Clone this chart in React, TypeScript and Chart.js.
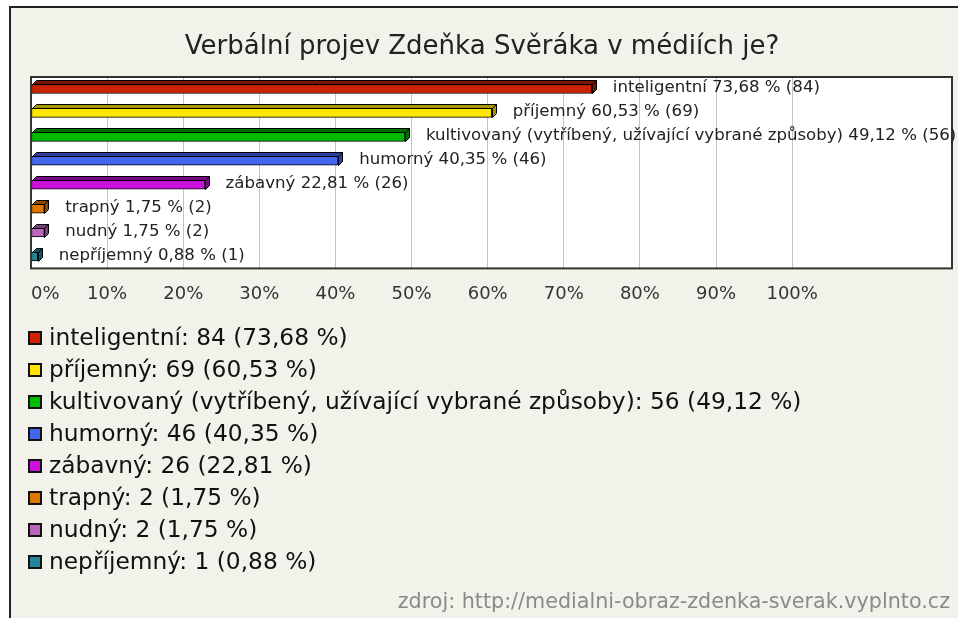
import React, { useEffect, useRef } from 'react';
import { Chart, registerables } from 'chart.js';

Chart.register(...registerables);

const TITLE = 'Verbální projev Zdeňka Svěráka v médiích je?';
const FOOTER = 'zdroj: http://medialni-obraz-zdenka-sverak.vyplnto.cz';

const categories = [
  'inteligentní',
  'příjemný',
  'kultivovaný (vytříbený, užívající vybrané způsoby)',
  'humorný',
  'zábavný',
  'trapný',
  'nudný',
  'nepříjemný',
];
const counts = [84, 69, 56, 46, 26, 2, 2, 1];
const percents = [73.68, 60.53, 49.12, 40.35, 22.81, 1.75, 1.75, 0.88];
const frontColors = ['#cc2200', '#ffe600', '#00bb00', '#4466ee', '#cc11dd', '#dd7700', '#bb66bb', '#228899'];
const sideColors = ['#7a1400', '#a89600', '#007000', '#2a3fa0', '#7a0a88', '#8a4a00', '#7a3f7a', '#145560'];
const tickLabels = ['0%', '10%', '20%', '30%', '40%', '50%', '60%', '70%', '80%', '90%', '100%'];

const fmt = (v: number) => v.toFixed(2).replace('.', ',');

const W = 958;
const H = 618;
const DEPTH = 4;

const decorPlugin = {
  id: 'decor',
  beforeDraw(chart: any) {
    const ctx = chart.ctx;
    const a = chart.chartArea;
    ctx.save();
    ctx.fillStyle = '#ffffff';
    ctx.fillRect(0, 0, W, H);
    ctx.fillStyle = '#f3f2ea';
    ctx.fillRect(10, 7, W - 10, H - 7);
    ctx.strokeStyle = '#222';
    ctx.lineWidth = 2;
    ctx.beginPath();
    ctx.moveTo(10, H);
    ctx.lineTo(10, 7);
    ctx.lineTo(W, 7);
    ctx.stroke();
    ctx.fillStyle = '#ffffff';
    ctx.fillRect(a.left, a.top, a.right - a.left, a.bottom - a.top);
    // title
    ctx.fillStyle = '#222';
    ctx.font = '26px "DejaVu Sans"';
    ctx.textAlign = 'center';
    ctx.textBaseline = 'alphabetic';
    ctx.fillText(TITLE, 482, 54);
    ctx.restore();
  },
  afterDatasetsDraw(chart: any) {
    const ctx = chart.ctx;
    const a = chart.chartArea;
    const meta = chart.getDatasetMeta(0);
    ctx.save();
    ctx.lineWidth = 1;
    ctx.strokeStyle = '#000';
    meta.data.forEach((el: any, i: number) => {
      const p = el.getProps(['x', 'y', 'base', 'height'], true);
      const x0 = Math.round(p.base) + 0.5;
      const x1 = Math.round(p.x) + 0.5;
      const yT = Math.round(p.y - p.height / 2) + 0.5;
      const yB = Math.round(p.y + p.height / 2) + 0.5;
      ctx.fillStyle = sideColors[i];
      ctx.beginPath();
      ctx.moveTo(x0, yT);
      ctx.lineTo(x0 + DEPTH, yT - DEPTH);
      ctx.lineTo(x1 + DEPTH, yT - DEPTH);
      ctx.lineTo(x1, yT);
      ctx.closePath();
      ctx.fill();
      ctx.stroke();
      ctx.beginPath();
      ctx.moveTo(x1, yT);
      ctx.lineTo(x1 + DEPTH, yT - DEPTH);
      ctx.lineTo(x1 + DEPTH, yB - DEPTH);
      ctx.lineTo(x1, yB);
      ctx.closePath();
      ctx.fill();
      ctx.stroke();
    });
    // plot border
    ctx.strokeStyle = '#333';
    ctx.lineWidth = 2;
    ctx.strokeRect(a.left, a.top, a.right - a.left, a.bottom - a.top);
    // value labels
    ctx.fillStyle = '#222';
    ctx.font = '16.6px "DejaVu Sans"';
    ctx.textAlign = 'left';
    ctx.textBaseline = 'middle';
    meta.data.forEach((el: any, i: number) => {
      const p = el.getProps(['x', 'y'], true);
      const txt = `${categories[i]} ${fmt(percents[i])} % (${counts[i]})`;
      ctx.fillText(txt, p.x + DEPTH + 17, p.y - 1);
    });
    ctx.restore();
  },
  afterDraw(chart: any) {
    const ctx = chart.ctx;
    ctx.save();
    // legend
    ctx.textBaseline = 'middle';
    ctx.textAlign = 'left';
    ctx.font = '23.3px "DejaVu Sans"';
    categories.forEach((c, i) => {
      const cy = 338 + i * 32;
      ctx.fillStyle = frontColors[i];
      ctx.fillRect(28, cy - 7, 14, 14);
      ctx.strokeStyle = '#111';
      ctx.lineWidth = 2;
      ctx.strokeRect(29, cy - 6, 12, 12);
      ctx.fillStyle = '#111';
      ctx.fillText(`${c}: ${counts[i]} (${fmt(percents[i])} %)`, 49, cy + 1);
    });
    // footer
    ctx.fillStyle = '#8a8a8a';
    ctx.font = '20.7px "DejaVu Sans"';
    ctx.textAlign = 'right';
    ctx.textBaseline = 'alphabetic';
    ctx.fillText(FOOTER, 950, 608);
    ctx.restore();
  },
};

export default function App() {
  const ref = useRef<HTMLCanvasElement | null>(null);
  useEffect(() => {
    document.body.style.margin = '0';
    const canvas = ref.current!;
    const chart = new Chart(canvas, {
      type: 'bar',
      data: {
        labels: categories,
        datasets: [
          {
            data: percents,
            backgroundColor: frontColors,
            borderColor: '#000',
            borderWidth: 1,
            borderSkipped: false,
            barThickness: 9,
          },
        ],
      },
      options: {
        indexAxis: 'y',
        animation: false,
        responsive: false,
        devicePixelRatio: 1,
        layout: { padding: { left: 31, right: 6, top: 77, bottom: 307 } },
        plugins: {
          legend: { display: false },
          title: { display: false },
          tooltip: { enabled: false },
        },
        scales: {
          x: {
            type: 'linear',
            min: 0,
            max: 121,
            ticks: {
              stepSize: 10,
              autoSkip: false,
              maxRotation: 0,
              align: 'inner',
              padding: 6,
              color: '#333',
              font: { family: 'DejaVu Sans', size: 18 },
              callback: (v: any) => tickLabels[Math.round(v / 10)] ?? '',
            },
            grid: {
              drawTicks: true,
              tickLength: 9,
              tickColor: 'rgba(0,0,0,0)',
              color: (c: any) => (c.tick && c.tick.value > 100 ? 'rgba(0,0,0,0)' : '#c4c4c4'),
              lineWidth: 1,
            },
            border: { display: false },
          },
          y: {
            display: false,
          },
        },
      },
      plugins: [decorPlugin],
    });
    return () => chart.destroy();
  }, []);
  return <canvas ref={ref} width={W} height={H} style={{ display: 'block' }} />;
}
